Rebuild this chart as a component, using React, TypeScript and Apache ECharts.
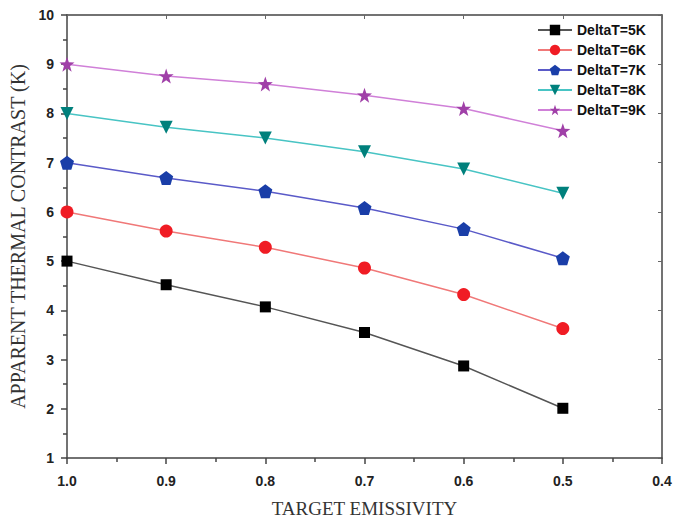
import React, { useEffect, useRef } from "react";
import * as echarts from "echarts";

const emissivity = [1.0, 0.9, 0.8, 0.7, 0.6, 0.5];
const seriesNames = ["DeltaT=5K", "DeltaT=6K", "DeltaT=7K", "DeltaT=8K", "DeltaT=9K"];
const dT5 = [5.0, 4.52, 4.07, 3.55, 2.87, 2.01];
const dT6 = [6.0, 5.61, 5.28, 4.86, 4.32, 3.63];
const dT7 = [7.0, 6.69, 6.42, 6.08, 5.65, 5.06];
const dT8 = [8.0, 7.72, 7.5, 7.22, 6.87, 6.38];
const dT9 = [9.0, 8.76, 8.6, 8.37, 8.1, 7.65];

const pentagon =
  "path://M0,-10 L9.51,-3.09 L5.88,8.09 L-5.88,8.09 L-9.51,-3.09 Z";
const star =
  "path://M0,-10 L2.35,-3.24 L9.51,-3.09 L3.8,1.24 L5.88,8.09 L0,4 L-5.88,8.09 L-3.8,1.24 L-9.51,-3.09 L-2.35,-3.24 Z";

export default function App() {
  const ref = useRef<HTMLDivElement>(null);
  useEffect(() => {
    document.body.style.margin = "0";
    const chart = echarts.init(ref.current!, undefined, { renderer: "svg" });
    const all = [dT5, dT6, dT7, dT8, dT9];
    const styles = [
      { symbol: "rect", size: 11, color: "#000000", line: "#555555", rotate: 0 },
      { symbol: "circle", size: 13, color: "#f01c24", line: "#f07878", rotate: 0 },
      { symbol: pentagon, size: 14, color: "#1a3ea8", line: "#5a5ac8", rotate: 0 },
      { symbol: "triangle", size: 13, color: "#00807c", line: "#48c4c4", rotate: 180 },
      { symbol: star, size: 15, color: "#a040a8", line: "#d080d8", rotate: 0 },
    ];
    const tickLabel = {
      fontFamily: "Liberation Sans, Arial, sans-serif",
      fontWeight: "bold" as const,
      fontSize: 14,
      color: "#222",
    };
    const nameStyle = {
      fontFamily: "Liberation Serif, Times New Roman, serif",
      fontSize: 20,
      color: "#333",
    };
    chart.setOption({
      animation: false,
      backgroundColor: "#ffffff",
      grid: { left: 67, right: 26, top: 15, bottom: 61, outerBoundsMode: "none", containLabel: false },
      legend: {
        orient: "vertical",
        left: 532,
        top: 18,
        itemWidth: 34,
        itemHeight: 13,
        itemGap: 6,
        textStyle: { ...tickLabel, fontSize: 14, color: "#111" },
        data: seriesNames,
      },
      xAxis: [
        {
          type: "value",
          inverse: true,
          min: 0.4,
          max: 1.0,
          interval: 0.1,
          name: "TARGET EMISSIVITY",
          nameLocation: "middle",
          nameGap: 43,
          nameTextStyle: { ...nameStyle, fontSize: 19, lineHeight: 15 },
          axisLine: { show: true, lineStyle: { color: "#444", width: 1.5 } },
          axisTick: { show: true, inside: false, length: 6, lineStyle: { color: "#444", width: 1.5 } },
          minorTick: { show: true, splitNumber: 2, length: 4, lineStyle: { color: "#444", width: 1.5 } },
          axisLabel: {
            ...tickLabel,
            margin: 16,
            formatter: (v: number) => v.toFixed(1),
          },
          splitLine: { show: false },
        },
        {
          type: "value",
          position: "top",
          inverse: true,
          min: 0.4,
          max: 1.0,
          interval: 0.1,
          axisLine: { show: true, lineStyle: { color: "#444", width: 1.5 } },
          axisTick: { show: true, inside: true, length: 4, lineStyle: { color: "#666" } },
          axisLabel: { show: false },
          splitLine: { show: false },
        },
      ],
      yAxis: [
        {
          type: "value",
          min: 1,
          max: 10,
          interval: 1,
          name: "APPARENT THERMAL CONTRAST (K)",
          nameLocation: "middle",
          nameGap: 35,
          nameTextStyle: nameStyle,
          axisLine: { show: true, lineStyle: { color: "#444", width: 1.5 } },
          axisTick: { show: true, inside: false, length: 6, lineStyle: { color: "#444", width: 1.5 } },
          minorTick: { show: true, splitNumber: 2, length: 4, lineStyle: { color: "#444", width: 1.5 } },
          axisLabel: { ...tickLabel, margin: 13 },
          splitLine: { show: false },
        },
        {
          type: "value",
          position: "right",
          min: 1,
          max: 10,
          interval: 1,
          axisLine: { show: true, lineStyle: { color: "#444", width: 1.5 } },
          axisTick: { show: true, inside: true, length: 4, lineStyle: { color: "#666" } },
          axisLabel: { show: false },
          splitLine: { show: false },
        },
      ],
      series: all.map((vals, i) => ({
        name: seriesNames[i],
        type: "line",
        xAxisIndex: 0,
        yAxisIndex: 0,
        data: emissivity.map((x, j) => [x, vals[j]]),
        symbol: styles[i].symbol,
        symbolSize: styles[i].size,
        symbolRotate: styles[i].rotate,
        showAllSymbol: true,
        itemStyle: { color: styles[i].color },
        lineStyle: { color: styles[i].line, width: 1.5 },
      })),
    });
    return () => chart.dispose();
  }, []);
  return <div ref={ref} style={{ width: 688, height: 519 }} />;
}
